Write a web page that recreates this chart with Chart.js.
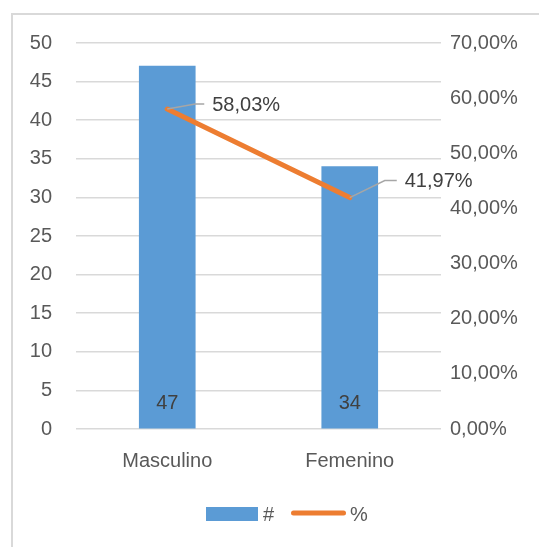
<!DOCTYPE html>
<html>
<head>
<meta charset="utf-8">
<script src="https://cdn.jsdelivr.net/npm/chart.js@4.4.0/dist/chart.umd.min.js"></script>
<style>
  html, body { margin: 0; padding: 0; background: #fff; overflow: hidden; }
  #frame { position: absolute; left: 11px; top: 13px; width: 560px; height: 560px; border: 2px solid #d9d9d9; box-sizing: border-box; }
  #wrap { position: absolute; left: 0; top: 0; width: 539px; height: 547px; }
</style>
</head>
<body>
<div id="frame"></div>
<div id="wrap"><canvas id="chart" width="539" height="547"></canvas></div>
<script>
// datos
const categories = ['Masculino', 'Femenino'];
const counts = [47, 34];
const percents = [58.03, 41.97];
const countTicks = [0, 5, 10, 15, 20, 25, 30, 35, 40, 45, 50];
const percentTicks = [0, 10, 20, 30, 40, 50, 60, 70];

const BLUE = '#5B9BD5';
const ORANGE = '#ED7D31';
const TEXT = '#595959';
const LABEL = '#404040';
const FONT = "'Liberation Sans', Arial, sans-serif";

const fmtPct = (v) => v.toFixed(2).replace('.', ',') + '%';

// etiquetas de datos (barras dentro, línea con guía)
const dataLabels = {
    id: 'dataLabels',
    afterDatasetsDraw(chart) {
        const ctx = chart.ctx;
        ctx.save();
        ctx.font = '20px ' + FONT;
        ctx.fillStyle = LABEL;

        const barMeta = chart.getDatasetMeta(0);
        barMeta.data.forEach((bar, i) => {
            ctx.textAlign = 'center';
            ctx.textBaseline = 'middle';
            ctx.fillText(String(counts[i]), bar.x, bar.base - 25);
        });

        // desplazamientos de las etiquetas de la línea
        const offsets = [{ dx: 28, dy: -5, hx: 9 }, { dx: 35, dy: -17, hx: 12 }];
        const lineMeta = chart.getDatasetMeta(1);
        lineMeta.data.forEach((pt, i) => {
            const o = offsets[i];
            const ex = pt.x + o.dx, ey = pt.y + o.dy;
            ctx.strokeStyle = '#A6A6A6';
            ctx.lineWidth = 1.5;
            ctx.beginPath();
            ctx.moveTo(pt.x, pt.y);
            ctx.lineTo(ex, ey);
            ctx.lineTo(ex + o.hx, ey);
            ctx.stroke();
            ctx.textAlign = 'left';
            ctx.textBaseline = 'middle';
            ctx.fillText(fmtPct(percents[i]), ex + o.hx + 8, ey + 1);
        });
        ctx.restore();
    }
};

// leyenda inferior al estilo Excel
const bottomLegend = {
    id: 'bottomLegend',
    afterDraw(chart) {
        const ctx = chart.ctx;
        const ds = chart.data.datasets;
        const cy = 514;
        ctx.save();
        ctx.font = '20px ' + FONT;
        ctx.fillStyle = TEXT;
        ctx.textBaseline = 'middle';
        ctx.textAlign = 'left';

        ctx.fillStyle = ds[0].backgroundColor;
        ctx.fillRect(206, cy - 7, 52, 14);
        ctx.fillStyle = TEXT;
        ctx.fillText(ds[0].label, 263, cy + 1);

        ctx.strokeStyle = ds[1].borderColor;
        ctx.lineWidth = 5;
        ctx.lineCap = 'round';
        ctx.beginPath();
        ctx.moveTo(293.5, cy - 1);
        ctx.lineTo(343.5, cy - 1);
        ctx.stroke();
        ctx.fillText(ds[1].label, 350, cy + 1);
        ctx.restore();
    }
};

new Chart(document.getElementById('chart'), {
    type: 'bar',
    data: {
        labels: categories,
        datasets: [
            {
                label: '#',
                data: counts,
                backgroundColor: BLUE,
                borderWidth: 0,
                barThickness: 56,
                yAxisID: 'y',
                order: 1
            },
            {
                type: 'line',
                label: '%',
                data: percents,
                borderColor: ORANGE,
                backgroundColor: ORANGE,
                borderWidth: 5,
                borderCapStyle: 'round',
                pointRadius: 0,
                tension: 0,
                yAxisID: 'y1',
                order: 0
            }
        ]
    },
    options: {
        responsive: false,
        animation: false,
        layout: { padding: { left: 0, right: 0, top: 43, bottom: 55 } },
        plugins: {
            tooltip: { enabled: false },
            legend: { display: false }
        },
        scales: {
            x: {
                grid: { display: false, drawTicks: false },
                border: { display: false },
                ticks: { color: TEXT, font: { family: FONT, size: 20 }, padding: 20 },
                afterFit(scale) { scale.height = 63; }
            },
            y: {
                position: 'left',
                min: 0,
                max: 50,
                afterBuildTicks(scale) { scale.ticks = countTicks.map(v => ({ value: v })); },
                grid: { color: '#D9D9D9', lineWidth: 1.5, drawTicks: false },
                border: { display: false },
                ticks: { color: TEXT, font: { family: FONT, size: 20 }, padding: 24 },
                afterFit(scale) { scale.width = 76; }
            },
            y1: {
                position: 'right',
                min: 0,
                max: 70,
                afterBuildTicks(scale) { scale.ticks = percentTicks.map(v => ({ value: v })); },
                grid: { display: false, drawTicks: false },
                border: { display: false },
                ticks: { color: TEXT, font: { family: FONT, size: 20 }, padding: 9, callback: (v) => fmtPct(v) },
                afterFit(scale) { scale.width = 98; }
            }
        }
    },
    plugins: [dataLabels, bottomLegend]
});
</script>
</body>
</html>
